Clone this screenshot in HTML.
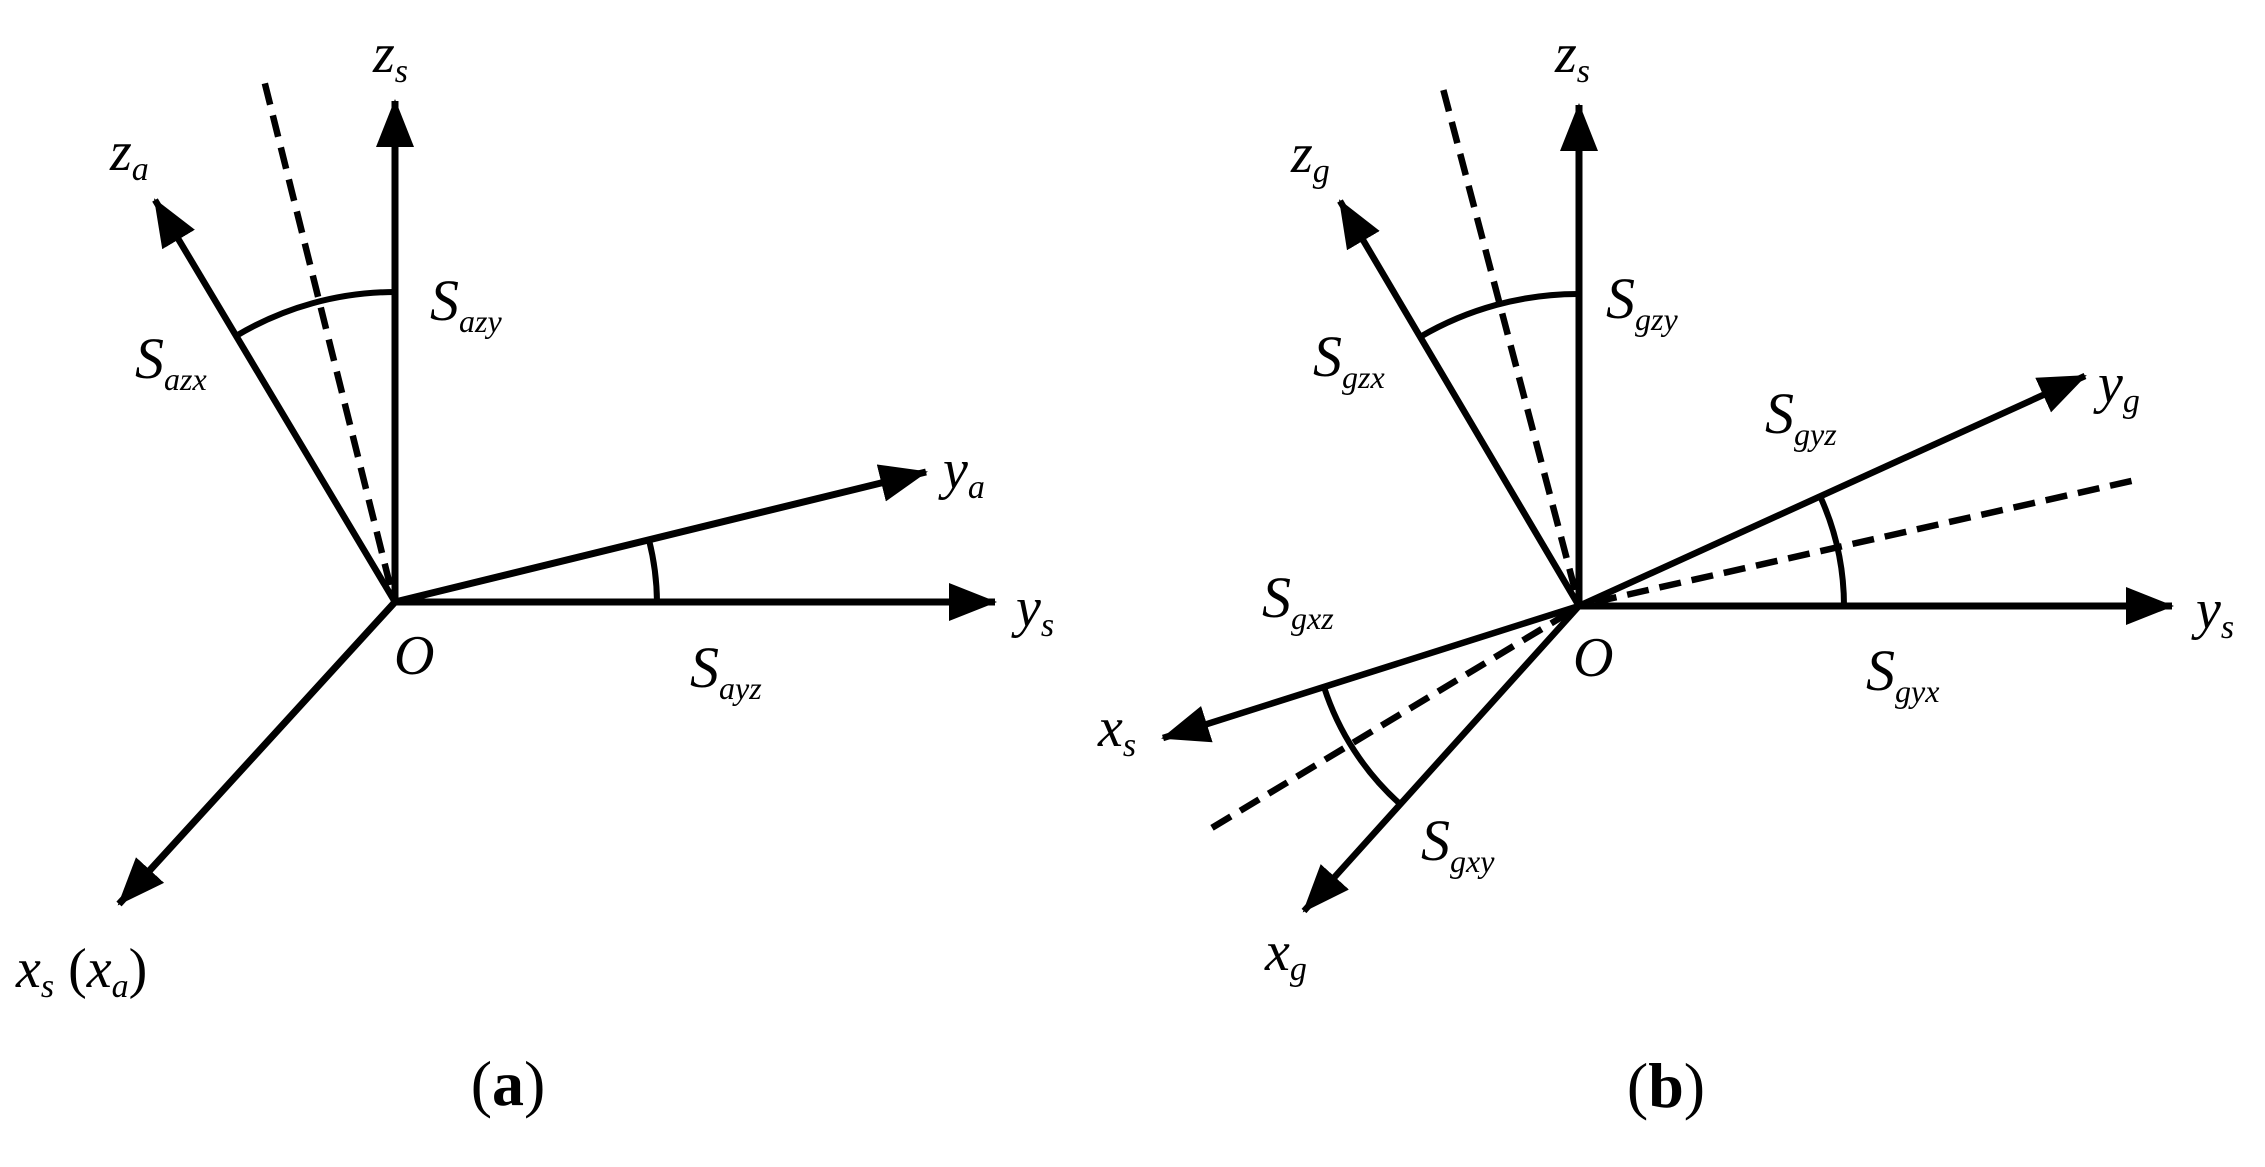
<!DOCTYPE html>
<html><head><meta charset="utf-8"><style>
html,body{margin:0;padding:0;background:#fff;}
svg{display:block;}
text{font-family:"Liberation Serif",serif;fill:#000;}
.it{font-style:italic;}
</style></head><body>
<svg width="2265" height="1167" viewBox="0 0 2265 1167" xmlns="http://www.w3.org/2000/svg">
<defs>
<marker id="ah" markerUnits="userSpaceOnUse" markerWidth="52" markerHeight="40" refX="46" refY="19" orient="auto">
<path d="M0,0 L48,19 L0,38 z" fill="#000"/>
</marker>
</defs>
<g stroke="#000" stroke-width="7" fill="none" stroke-linecap="butt">
<!-- panel a -->
<line x1="395" y1="605" x2="395" y2="101" marker-end="url(#ah)"/>
<line x1="392" y1="602" x2="995" y2="602" marker-end="url(#ah)"/>
<line x1="395" y1="602" x2="155" y2="200" marker-end="url(#ah)" stroke-width="6.5"/>
<line x1="395" y1="602" x2="926" y2="472" marker-end="url(#ah)"/>
<line x1="395" y1="602" x2="119" y2="904" marker-end="url(#ah)"/>
<line x1="390" y1="585" x2="263" y2="76" stroke-dasharray="22,11" stroke-width="6.5"/>
<path d="M236,336 A310,310 0 0 1 395,292" stroke-width="6"/>
<path d="M649,540 A262,262 0 0 1 657,602" stroke-width="6"/>
<!-- panel b -->
<line x1="1579" y1="609" x2="1579" y2="105" marker-end="url(#ah)"/>
<line x1="1576" y1="606" x2="2172" y2="606" marker-end="url(#ah)"/>
<line x1="1579" y1="606" x2="1340" y2="201" marker-end="url(#ah)" stroke-width="6.5"/>
<line x1="1579" y1="606" x2="2085" y2="376" marker-end="url(#ah)" stroke-width="6.5"/>
<line x1="1579" y1="606" x2="1163" y2="738" marker-end="url(#ah)" stroke-width="6.5"/>
<line x1="1579" y1="606" x2="1304" y2="911" marker-end="url(#ah)" stroke-width="6.5"/>
<line x1="1575" y1="590" x2="1441" y2="81" stroke-dasharray="22,11" stroke-width="6.5"/>
<line x1="1595" y1="602" x2="2140" y2="479" stroke-dasharray="22,11" stroke-width="6.5"/>
<line x1="1570" y1="612" x2="1210" y2="829" stroke-dasharray="22,11" stroke-width="6.5"/>
<path d="M1420,337 A312,312 0 0 1 1579,294" stroke-width="6"/>
<path d="M1820,496 A265,265 0 0 1 1844,606" stroke-width="6"/>
<path d="M1324,687 A267,267 0 0 0 1400,804" stroke-width="6"/>
</g>
<!-- labels panel a -->
<text class="it" x="373" y="72" font-size="56">z<tspan font-size="34" dy="10">s</tspan></text>
<text class="it" x="110" y="170" font-size="56">z<tspan font-size="34" dy="10">a</tspan></text>
<text class="it" x="430" y="320" font-size="58">S<tspan font-size="32" dy="12">azy</tspan></text>
<text class="it" x="135" y="378" font-size="58">S<tspan font-size="32" dy="12">azx</tspan></text>
<text class="it" x="943" y="488" font-size="56">y<tspan font-size="34" dy="10">a</tspan></text>
<text class="it" x="1016" y="626" font-size="56">y<tspan font-size="34" dy="10">s</tspan></text>
<text class="it" x="394" y="674" font-size="56">O</text>
<text class="it" x="690" y="687" font-size="58">S<tspan font-size="32" dy="12">ayz</tspan></text>
<text class="it" x="16" y="987" font-size="56">x<tspan font-size="34" dy="10">s</tspan><tspan dy="-10" font-style="normal"> (</tspan>x<tspan font-size="34" dy="10">a</tspan><tspan dy="-10" font-style="normal">)</tspan></text>
<text x="508" y="1105" font-size="64" text-anchor="middle">(<tspan font-weight="bold">a</tspan>)</text>
<!-- labels panel b -->
<text class="it" x="1555" y="72" font-size="56">z<tspan font-size="34" dy="10">s</tspan></text>
<text class="it" x="1291" y="172" font-size="56">z<tspan font-size="34" dy="10">g</tspan></text>
<text class="it" x="1606" y="318" font-size="58">S<tspan font-size="32" dy="12">gzy</tspan></text>
<text class="it" x="1313" y="376" font-size="58">S<tspan font-size="32" dy="12">gzx</tspan></text>
<text class="it" x="2098" y="402" font-size="56">y<tspan font-size="34" dy="10">g</tspan></text>
<text class="it" x="1765" y="433" font-size="58">S<tspan font-size="32" dy="12">gyz</tspan></text>
<text class="it" x="2196" y="628" font-size="56">y<tspan font-size="34" dy="10">s</tspan></text>
<text class="it" x="1573" y="676" font-size="56">O</text>
<text class="it" x="1866" y="690" font-size="58">S<tspan font-size="32" dy="12">gyx</tspan></text>
<text class="it" x="1262" y="617" font-size="58">S<tspan font-size="32" dy="12">gxz</tspan></text>
<text class="it" x="1098" y="746" font-size="56">x<tspan font-size="34" dy="10">s</tspan></text>
<text class="it" x="1421" y="860" font-size="58">S<tspan font-size="32" dy="12">gxy</tspan></text>
<text class="it" x="1265" y="970" font-size="56">x<tspan font-size="34" dy="10">g</tspan></text>
<text x="1666" y="1107" font-size="64" text-anchor="middle">(<tspan font-weight="bold">b</tspan>)</text>
</svg>
</body></html>
